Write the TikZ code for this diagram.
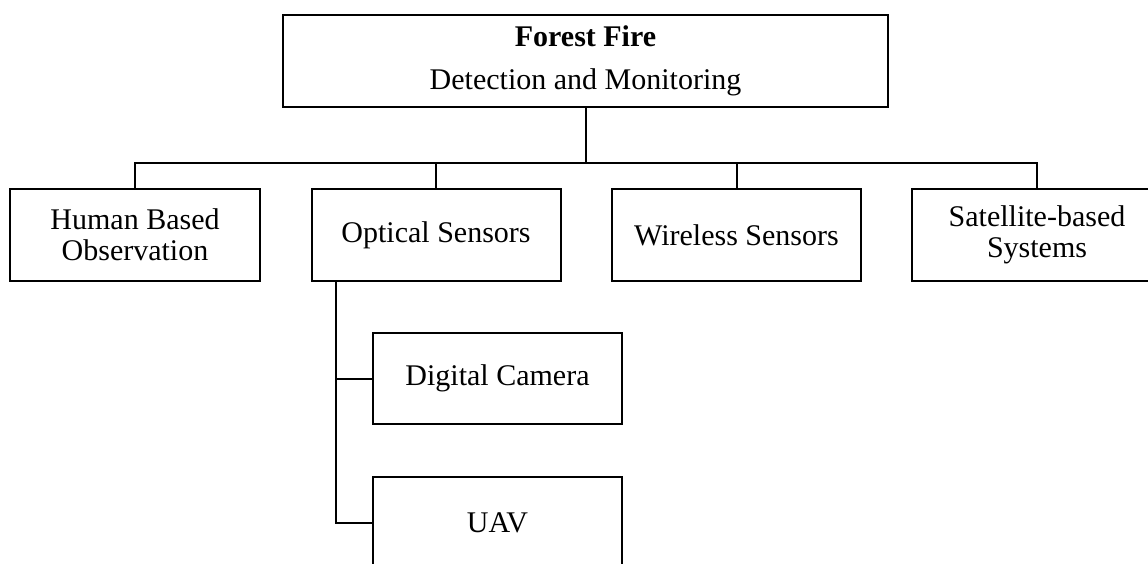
\documentclass[tikz,border=0pt]{standalone}
\usepackage{fontspec}
\setmainfont{Liberation Serif}
\begin{document}
\begin{tikzpicture}[x=1pt,y=-1pt,
  box/.style={draw=black, line width=2pt, inner sep=0pt, align=center,
    minimum height=92pt, minimum width=249pt,
    font=\fontsize{30}{31}\selectfont},
  topbox/.style={box, minimum width=605pt, font=\fontsize{30}{43}\selectfont},
  link/.style={draw=black, line width=2pt}]
\useasboundingbox (0,0) rectangle (1148,563);
\clip (0,0) rectangle (1148,563);
\node[topbox] (top) at (585.5,61) {\textbf{Forest Fire}\\Detection and Monitoring};
\node[box, minimum width=250pt] (human) at (135,235) {Human Based\\Observation};
\node[box] (optical) at (436,235) {Optical Sensors};
\node[box] (wireless) at (736.5,235) {Wireless Sensors};
\node[box, minimum width=250pt] (satellite) at (1037,235) {Satellite-based\\Systems};
\node[box, minimum height=91pt] (camera) at (497.5,378.5) {Digital Camera};
\node[box, minimum height=91pt] (uav) at (497.5,522.5) {UAV};
\path (top.south) ++(0,55) coordinate (bus);
\path[link] (top.south) -- (bus) -| (human.north);
\path[link] (bus) -| (optical.north);
\path[link] (bus) -| (wireless.north);
\path[link] (bus) -| (satellite.north);
\path (optical.south) ++(-100,0) coordinate (trunk);
\path[link] (trunk) |- (camera.west);
\path[link] (trunk) |- (uav.west);
\end{tikzpicture}
\end{document}
